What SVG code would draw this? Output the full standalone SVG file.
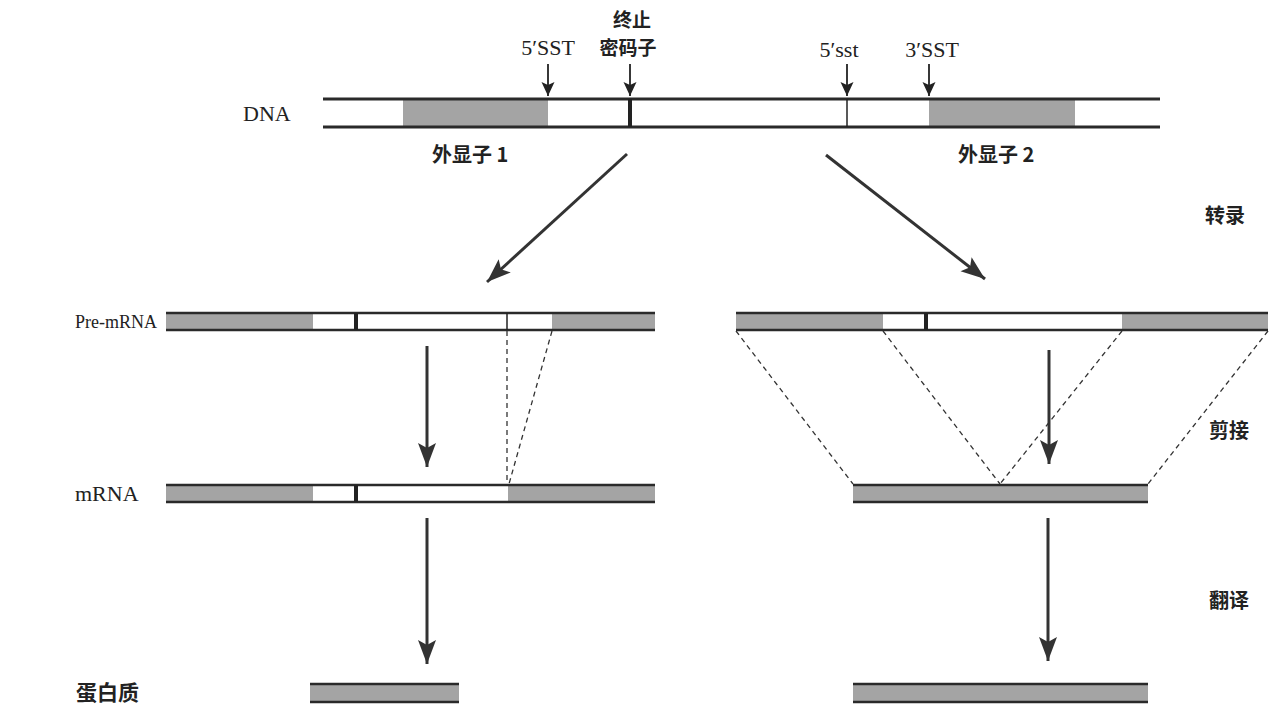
<svg xmlns="http://www.w3.org/2000/svg" width="1281" height="712" viewBox="0 0 1281 712">
<style>
.bg{fill:#ffffff}
.gray{fill:#a4a4a4}
.edge{stroke:#2a2a2a;stroke-width:3;fill:none}
.edge2{stroke:#2a2a2a;stroke-width:2.5;fill:none}
.thick{stroke:#222;stroke-width:4}
.thin{stroke:#222;stroke-width:1.5}
.dash{stroke:#333;stroke-width:1.3;stroke-dasharray:5 4;fill:none}
.big{stroke:#333;stroke-width:3;fill:none}
.small{stroke:#222;stroke-width:1.8;fill:none}
.lat{font-family:"Liberation Serif","Times New Roman",serif;fill:#222}
.cjk{font-family:"Noto Sans CJK SC",sans-serif;font-weight:700;fill:#222}
</style>
<defs>
<marker id="ah" markerUnits="userSpaceOnUse" markerWidth="26" markerHeight="20" refX="24" refY="10" orient="auto">
<path d="M0,1 L24,10 L0,19 L5,10 z" fill="#333"/>
</marker>
<marker id="as" markerUnits="userSpaceOnUse" markerWidth="16" markerHeight="14" refX="14" refY="7" orient="auto">
<path d="M0,0.5 L14,7 L0,13.5 L3,7 z" fill="#222"/>
</marker>
</defs>
<rect class="bg" x="0" y="0" width="1281" height="712"/>

<g id="dna">
<text class="lat" x="243" y="121" font-size="22">DNA</text>
<rect class="gray" x="403" y="99" width="145" height="28"/>
<rect class="gray" x="929" y="99" width="146" height="28"/>
<line class="edge" x1="323" y1="99" x2="1160" y2="99"/>
<line class="edge" x1="323" y1="127" x2="1160" y2="127"/>
<line class="thick" x1="630" y1="99" x2="630" y2="127"/>
<line class="thin" x1="847" y1="99" x2="847" y2="127"/>
</g>

<g id="site-labels">
<text class="lat" x="548" y="55" font-size="22" text-anchor="middle">5′SST</text>
<text class="cjk" x="632" y="27" font-size="19" text-anchor="middle">终止</text>
<text class="cjk" x="628" y="55" font-size="19" text-anchor="middle">密码子</text>
<text class="lat" x="839" y="57" font-size="22" text-anchor="middle">5′sst</text>
<text class="lat" x="932" y="57" font-size="22" text-anchor="middle">3′SST</text>
</g>

<g id="exon-labels">
<text class="cjk" x="432" y="162" font-size="20">外显子 1</text>
<text class="cjk" x="958" y="162" font-size="20">外显子 2</text>
</g>

<g id="pre-mrna">
<text class="lat" x="75" y="328" font-size="18">Pre-mRNA</text>
<rect class="gray" x="166" y="313" width="147" height="17"/>
<rect class="gray" x="552" y="313" width="103" height="17"/>
<line class="edge2" x1="166" y1="313" x2="655" y2="313"/>
<line class="edge2" x1="166" y1="330" x2="655" y2="330"/>
<line class="thick" x1="356" y1="313" x2="356" y2="330"/>
<line class="thin" x1="507" y1="313" x2="507" y2="330"/>
<rect class="gray" x="736" y="313" width="147" height="17"/>
<rect class="gray" x="1122" y="313" width="146" height="17"/>
<line class="edge2" x1="736" y1="313" x2="1268" y2="313"/>
<line class="edge2" x1="736" y1="330" x2="1268" y2="330"/>
<line class="thick" x1="926" y1="313" x2="926" y2="330"/>
</g>

<g id="mrna">
<text class="lat" x="75" y="501" font-size="22">mRNA</text>
<rect class="gray" x="166" y="485" width="147" height="17"/>
<rect class="gray" x="508" y="485" width="147" height="17"/>
<line class="edge2" x1="166" y1="485" x2="655" y2="485"/>
<line class="edge2" x1="166" y1="502" x2="655" y2="502"/>
<line class="thick" x1="356" y1="485" x2="356" y2="502"/>
<rect class="gray" x="853" y="485" width="295" height="17"/>
<line class="edge2" x1="853" y1="485" x2="1148" y2="485"/>
<line class="edge2" x1="853" y1="502" x2="1148" y2="502"/>
</g>

<g id="protein">
<text class="cjk" x="76" y="700" font-size="21">蛋白质</text>
<rect class="gray" x="310" y="684" width="149" height="18"/>
<line class="edge2" x1="310" y1="684" x2="459" y2="684"/>
<line class="edge2" x1="310" y1="702" x2="459" y2="702"/>
<rect class="gray" x="853" y="684" width="295" height="18"/>
<line class="edge2" x1="853" y1="684" x2="1148" y2="684"/>
<line class="edge2" x1="853" y1="702" x2="1148" y2="702"/>
</g>

<g id="step-labels">
<text class="cjk" x="1225" y="223" font-size="20" text-anchor="middle">转录</text>
<text class="cjk" x="1229" y="438" font-size="20" text-anchor="middle">剪接</text>
<text class="cjk" x="1229" y="608" font-size="20" text-anchor="middle">翻译</text>
</g>

<g id="connectors">
<line class="small" x1="548" y1="64" x2="548" y2="96" marker-end="url(#as)"/>
<line class="small" x1="630" y1="64" x2="630" y2="96" marker-end="url(#as)"/>
<line class="small" x1="847" y1="64" x2="847" y2="96" marker-end="url(#as)"/>
<line class="small" x1="929" y1="64" x2="929" y2="96" marker-end="url(#as)"/>
<line class="big" x1="627" y1="154" x2="487" y2="282" marker-end="url(#ah)"/>
<line class="big" x1="826" y1="155" x2="985" y2="279" marker-end="url(#ah)"/>
<line class="big" x1="427" y1="346" x2="427" y2="467" marker-end="url(#ah)"/>
<line class="big" x1="1049" y1="350" x2="1049" y2="464" marker-end="url(#ah)"/>
<line class="big" x1="427" y1="518" x2="427" y2="664" marker-end="url(#ah)"/>
<line class="big" x1="1048" y1="518" x2="1048" y2="661" marker-end="url(#ah)"/>
<line class="dash" x1="507" y1="331" x2="507" y2="484"/>
<line class="dash" x1="552" y1="331" x2="509" y2="484"/>
<line class="dash" x1="736" y1="331" x2="853" y2="484"/>
<line class="dash" x1="883" y1="331" x2="1000" y2="484"/>
<line class="dash" x1="1122" y1="331" x2="1000" y2="484"/>
<line class="dash" x1="1268" y1="331" x2="1148" y2="484"/>
</g>
</svg>
